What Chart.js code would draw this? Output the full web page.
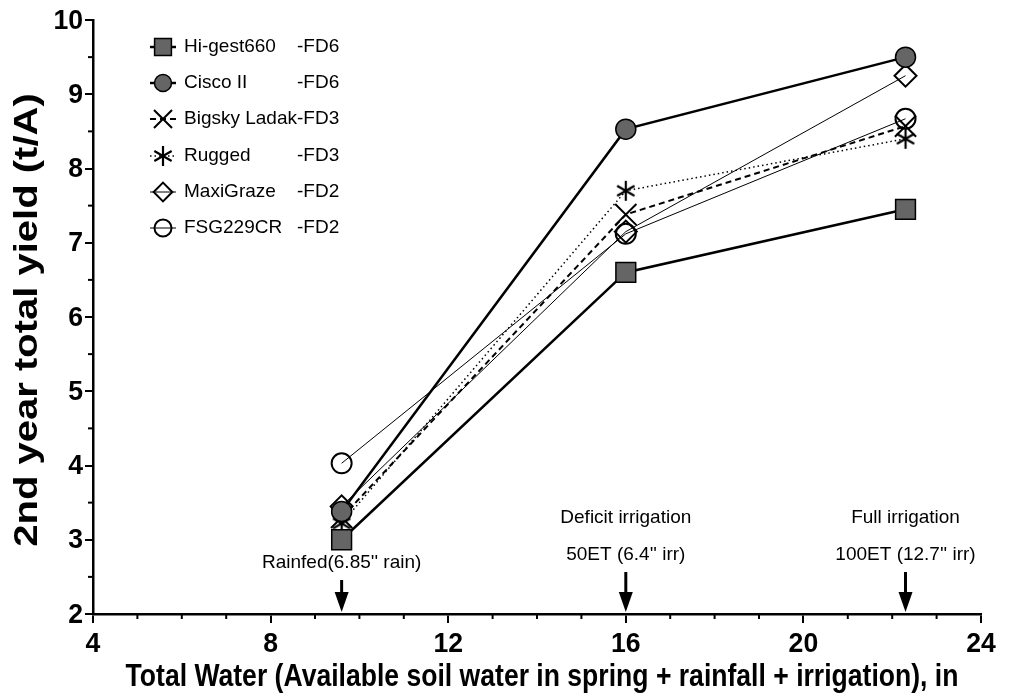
<!DOCTYPE html>
<html>
<head>
<meta charset="utf-8">
<script src="https://cdn.jsdelivr.net/npm/chart.js@4.4.1/dist/chart.umd.min.js"></script>
<style>
  html, body { margin: 0; padding: 0; background: #fff; }
  #wrap { width: 1026px; height: 700px; }
</style>
</head>
<body>
<div id="wrap"><canvas id="yield-chart" width="1026" height="700"></canvas></div>
<script>
// ========== DATA ========== //
const totalWater = [9.6, 16.0, 22.3];

const hiGest660 = [3.0, 6.6, 7.45];
const ciscoII = [3.38, 8.53, 9.5];
const bigskyLadak = [3.3, 7.38, 8.57];
const rugged = [3.22, 7.7, 8.4];
const maxiGraze = [3.45, 7.15, 9.25];
const fsg229cr = [4.03, 7.12, 8.67];

const seriesNames = ["Hi-gest660", "Cisco II", "Bigsky Ladak", "Rugged", "MaxiGraze", "FSG229CR"];
const dormancy = ["-FD6", "-FD6", "-FD3", "-FD3", "-FD2", "-FD2"];

const xTicksMajor = [4, 8, 12, 16, 20, 24];
const yTicksMajor = [2, 3, 4, 5, 6, 7, 8, 9, 10];

const xTitle = "Total Water (Available soil water in spring + rainfall + irrigation), in";
const yTitle = "2nd year total yield (t/A)";

const treatmentLabels = [
  ["Rainfed(6.85'' rain)"],
  ["Deficit irrigation", "50ET (6.4'' irr)"],
  ["Full irrigation", "100ET (12.7'' irr)"]
];

const FONT = "'Liberation Sans', Arial, Helvetica, sans-serif";
const GRAY = "#656565";
const NARROW = 0.83; // axis titles in the original use a condensed bold face

// ========== MARKERS ========== //
// six-armed asterisk for Rugged (Chart.js 'star' has 8 arms)
function makeAsterisk(r) {
  const c = document.createElement("canvas");
  const s = Math.ceil(r * 2 + 4);
  c.width = s; c.height = s;
  const g = c.getContext("2d");
  g.strokeStyle = "#000";
  g.lineWidth = 2.2;
  [90, 30, 150].forEach(deg => {
    const a = deg * Math.PI / 180;
    g.beginPath();
    g.moveTo(s / 2 - Math.cos(a) * r, s / 2 - Math.sin(a) * r);
    g.lineTo(s / 2 + Math.cos(a) * r, s / 2 + Math.sin(a) * r);
    g.stroke();
  });
  return c;
}
const asterisk = makeAsterisk(10);

function toPoints(values) {
  return values.map((v, i) => ({ x: totalWater[i], y: v }));
}

const datasets = [
  { label: seriesNames[0], data: toPoints(hiGest660), borderColor: "#000", borderWidth: 2.5,
    pointStyle: "rect", pointRadius: 14, pointBackgroundColor: GRAY, pointBorderColor: "#000", pointBorderWidth: 1.5 },
  { label: seriesNames[1], data: toPoints(ciscoII), borderColor: "#000", borderWidth: 2.5,
    pointStyle: "circle", pointRadius: 10, pointBackgroundColor: GRAY, pointBorderColor: "#000", pointBorderWidth: 1.5 },
  { label: seriesNames[2], data: toPoints(bigskyLadak), borderColor: "#000", borderWidth: 2, borderDash: [6, 4],
    pointStyle: "crossRot", pointRadius: 15, pointBorderColor: "#000", pointBorderWidth: 2 },
  { label: seriesNames[3], data: toPoints(rugged), borderColor: "#000", borderWidth: 1.5, borderDash: [1.5, 3],
    pointStyle: asterisk, pointRadius: 10 },
  { label: seriesNames[4], data: toPoints(maxiGraze), borderColor: "#000", borderWidth: 1,
    pointStyle: "rectRot", pointRadius: 11, pointBackgroundColor: "rgba(0,0,0,0)", pointBorderColor: "#000", pointBorderWidth: 2 },
  { label: seriesNames[5], data: toPoints(fsg229cr), borderColor: "#000", borderWidth: 1,
    pointStyle: "circle", pointRadius: 10, pointBackgroundColor: "rgba(0,0,0,0)", pointBorderColor: "#000", pointBorderWidth: 2 }
];
datasets.forEach(ds => { ds.fill = false; ds.tension = 0; ds.clip = false; ds.pointHoverRadius = ds.pointRadius; });

// ========== HELPERS ========== //
// text squeezed horizontally (local x) like the condensed face in the original
function squeezedText(c, text, x, y, font, align, baseline, sx) {
  c.save();
  c.translate(x, y);
  c.scale(sx, 1);
  c.font = font;
  c.fillStyle = "#000";
  c.textAlign = align;
  c.textBaseline = baseline;
  c.fillText(text, 0, 0);
  c.restore();
}

// ========== PLUGINS ========== //
const axisTextPlugin = {
  id: "axisText",
  afterDraw(chart) {
    const c = chart.ctx;
    const xs = chart.scales.x, ys = chart.scales.y;
    const tickFont = "bold 28px " + FONT;

    // minor tick marks (shorter than majors)
    c.save();
    c.strokeStyle = "#000";
    c.lineWidth = 2;
    xs.ticks.forEach(t => {
      if (xTicksMajor.includes(t.value)) return;
      const px = xs.getPixelForValue(t.value);
      c.beginPath(); c.moveTo(px, ys.bottom); c.lineTo(px, ys.bottom + 5); c.stroke();
    });
    ys.ticks.forEach(t => {
      if (yTicksMajor.includes(t.value)) return;
      const py = ys.getPixelForValue(t.value);
      c.beginPath(); c.moveTo(xs.left, py); c.lineTo(xs.left - 5, py); c.stroke();
    });
    c.restore();

    xTicksMajor.forEach(v => {
      squeezedText(c, String(v), xs.getPixelForValue(v), 652, tickFont, "center", "alphabetic", 0.95);
    });
    yTicksMajor.forEach(v => {
      squeezedText(c, String(v), xs.left - 10, ys.getPixelForValue(v) + 1, tickFont, "right", "middle", 0.95);
    });

    squeezedText(c, xTitle, (xs.left + xs.right) / 2 + 5, 686, "bold 32px " + FONT, "center", "alphabetic", NARROW);

    // rotated title: squeeze the glyph height, which lies along the screen x direction
    c.save();
    c.translate(28, (ys.top + ys.bottom) / 2 + 3);
    c.rotate(-Math.PI / 2);
    c.scale(1, NARROW);
    c.font = "bold 40px " + FONT;
    c.fillStyle = "#000";
    c.textAlign = "center";
    c.textBaseline = "middle";
    c.fillText(yTitle, 0, 0);
    c.restore();
  }
};

const treatmentPlugin = {
  id: "treatments",
  afterDraw(chart) {
    const c = chart.ctx;
    const xs = chart.scales.x, ys = chart.scales.y;
    c.save();
    c.font = "19px " + FONT;
    c.fillStyle = "#000";
    c.strokeStyle = "#000";
    c.textAlign = "center";
    c.textBaseline = "middle";
    totalWater.forEach((w, i) => {
      const px = xs.getPixelForValue(w);
      const lines = treatmentLabels[i];
      const lastY = i === 0 ? 563 : 555;
      lines.forEach((t, k) => {
        c.fillText(t, px, lastY - (lines.length - 1 - k) * 37);
      });
      const top = lastY + 17;
      const bottom = ys.getPixelForValue(2) - 2;
      c.lineWidth = 3;
      c.beginPath();
      c.moveTo(px, top);
      c.lineTo(px, bottom - 18);
      c.stroke();
      c.beginPath();
      c.moveTo(px - 7, bottom - 20);
      c.lineTo(px + 7, bottom - 20);
      c.lineTo(px, bottom);
      c.closePath();
      c.fill();
    });
    c.restore();
  }
};

const legendPlugin = {
  id: "insideLegend",
  afterDraw(chart) {
    const c = chart.ctx;
    const rows = [47, 83, 119, 156, 192, 228];
    const markX = 163, textX = 184, suffixX = 297;
    c.save();
    c.textBaseline = "middle";
    chart.data.datasets.forEach((ds, i) => {
      const y = rows[i];
      c.save();
      c.strokeStyle = "#000";
      c.lineWidth = ds.borderWidth;
      c.setLineDash(ds.borderDash || []);
      c.beginPath();
      c.moveTo(markX - 13, y);
      c.lineTo(markX + 13, y);
      c.stroke();
      c.restore();
      c.save();
      c.fillStyle = ds.pointBackgroundColor || "rgba(0,0,0,0)";
      c.strokeStyle = "#000";
      c.lineWidth = ds.pointBorderWidth || 2;
      Chart.helpers.drawPoint(c, {
        pointStyle: ds.pointStyle,
        radius: ds.pointRadius * 0.85,
        rotation: 0,
        borderWidth: ds.pointBorderWidth || 2
      }, markX, y);
      c.restore();
      c.font = "19px " + FONT;
      c.fillStyle = "#000";
      c.fillText(ds.label, textX, y);
      const end = textX + c.measureText(ds.label).width;
      c.fillText(dormancy[i], Math.max(suffixX, end), y);
    });
    c.restore();
  }
};

// ========== CHART ========== //
const ctx = document.getElementById("yield-chart").getContext("2d");

const chart = new Chart(ctx, {
  type: "line",
  data: { datasets },
  options: {
    responsive: false,
    animation: false,
    events: [],
    layout: { padding: { top: 20, right: 45, left: 0, bottom: 0 } },
    plugins: { legend: { display: false }, tooltip: { enabled: false } },
    scales: {
      x: {
        type: "linear",
        min: 4, max: 24,
        afterFit: s => { s.height = 86; },
        afterBuildTicks: s => {
          const t = [];
          for (let v = 4; v <= 24; v++) t.push({ value: v });
          s.ticks = t;
        },
        ticks: { display: false, autoSkip: false },
        grid: {
          drawOnChartArea: false, drawTicks: true, tickLength: 9, lineWidth: 2,
          color: "#000",
          tickColor: c => xTicksMajor.includes(c.tick.value) ? "#000" : "rgba(0,0,0,0)"
        },
        border: { display: true, color: "#000", width: 2.5 },
        title: { display: false }
      },
      y: {
        type: "linear",
        min: 2, max: 10,
        afterFit: s => { s.width = 93; },
        afterBuildTicks: s => {
          const t = [];
          for (let v = 2; v <= 10.001; v += 0.5) t.push({ value: v });
          s.ticks = t;
        },
        ticks: { display: false, autoSkip: false },
        grid: {
          drawOnChartArea: false, drawTicks: true, tickLength: 8, lineWidth: 2,
          color: "#000",
          tickColor: c => yTicksMajor.includes(c.tick.value) ? "#000" : "rgba(0,0,0,0)"
        },
        border: { display: true, color: "#000", width: 2.5 },
        title: { display: false }
      }
    }
  },
  plugins: [axisTextPlugin, treatmentPlugin, legendPlugin]
});
</script>
</body>
</html>
